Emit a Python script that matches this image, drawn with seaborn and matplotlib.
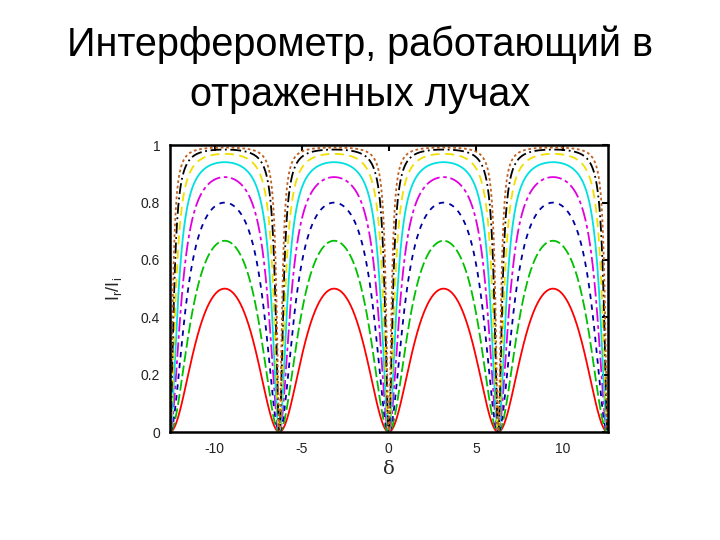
import numpy as np
import pandas as pd
import matplotlib
matplotlib.use("Agg")
import matplotlib.pyplot as plt
import seaborn as sns

# Peak reflectance of each curve
peaks = [0.5, 0.667, 0.8, 0.889, 0.941, 0.97, 0.985, 0.992]
colors = ["#ff0000", "#00c000", "#0000a0", "#e000e0", "#00e0e0", "#f0e000", "#000000", "#c06020"]
styles = ["-", (0, (6, 2)), (0, (3, 3)), (0, (8, 2, 2, 2)), "-", (0, (5, 3)), (0, (6, 2, 1, 2)), (0, (1.5, 1.5))]
xticks = [-10, -5, 0, 5, 10]
xticklabels = ["-10", "-5", "0", "5", "10"]
yticks = [0, 0.2, 0.4, 0.6, 0.8, 1]
yticklabels = ["0", "0.2", "0.4", "0.6", "0.8", "1"]
title_lines = ["Интерферометр, работающий в", "отраженных лучах"]

sns.set_style("white")
plt.rcParams["font.family"] = ["Liberation Sans", "DejaVu Sans"]
plt.rcParams["mathtext.default"] = "regular"

fig = plt.figure(figsize=(7.2, 5.4), dpi=100)
ax = fig.add_axes([0.236, 0.2, 0.608, 0.531])

delta = np.linspace(-4 * np.pi, 4 * np.pi, 1200)
for p, c, ls in zip(peaks, colors, styles):
    F = p / (1 - p)
    s = np.sin(delta / 2) ** 2
    df = pd.DataFrame({"d": delta, "r": F * s / (1 + F * s)})
    sns.lineplot(data=df, x="d", y="r", ax=ax, color=c, linestyle=ls, linewidth=1.3)

ax.set_xlim(-4 * np.pi, 4 * np.pi)
ax.set_ylim(0, 1)
ax.set_xticks(xticks)
ax.set_xticklabels(xticklabels)
ax.set_yticks(yticks)
ax.set_yticklabels(yticklabels)
ax.tick_params(direction="in", length=4, width=1.5, top=True, right=True,
               labelsize=10, pad=7, colors="black", labelcolor="#222222")
for sp in ax.spines.values():
    sp.set_color("black")
    sp.set_linewidth(1.8)
ax.set_xlabel("δ", fontsize=14, labelpad=3, family="DejaVu Serif")
ax.set_ylabel("I$_r$/I$_i$", fontsize=13, labelpad=12)

fig.text(0.5, 1 - 45 / 540, title_lines[0], ha="center", va="center", fontsize=28.5, color="black")
fig.text(0.5, 1 - 95 / 540, title_lines[1], ha="center", va="center", fontsize=28.5, color="black")

fig.savefig("out.png", dpi=100)
